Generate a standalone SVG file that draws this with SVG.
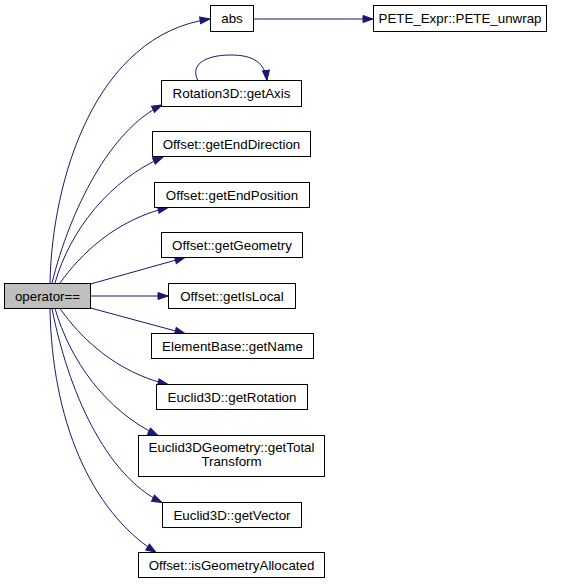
<svg xmlns="http://www.w3.org/2000/svg" width="561" height="584" viewBox="0 0 561 584">
<defs>
<marker id="arr" markerWidth="11" markerHeight="8" refX="10" refY="3.5" orient="auto" markerUnits="userSpaceOnUse" overflow="visible">
<path d="M0,0 L10,3.5 L0,7 z" fill="#191970" stroke="#191970" stroke-width="1"/>
</marker>
<style>
.node rect{fill:#ffffff;stroke:#000000;stroke-width:1}
.node.cur rect{fill:#bfbfbf}
.node text{font-family:"Liberation Sans",Arial,Helvetica,sans-serif;font-size:13.33px;fill:#000000;text-anchor:middle}
.edges path{fill:none;stroke:#191970;stroke-width:1;marker-end:url(#arr)}
</style>
</defs>
<rect x="0" y="0" width="561" height="584" fill="#ffffff"/>
<g class="edges">
<path d="M253.5,19 L373,19"/>
<path d="M198,80.5 C190,66 203,55 231,55 C252,55 265,62 267,80.5"/>
<path d="M50,283 C52,180 95,35 210,19"/>
<path d="M52,283 C70,210 110,130 162,105"/>
<path d="M55,283 C70,230 110,180 163,157"/>
<path d="M60,283 C80,255 115,220 168,207.5"/>
<path d="M90.5,284 L185,257.5"/>
<path d="M90.5,296 L168,296"/>
<path d="M90.5,308 L185,333.5"/>
<path d="M60,308.5 C80,337 115,372 168,384.5"/>
<path d="M55,308.5 C70,360 105,410 158,435.5"/>
<path d="M52,308.5 C68,390 105,475 162,502.5"/>
<path d="M50,308.5 C52,420 90,510 156,552.5"/>
</g>
<g id="node-operator" class="node cur"><rect x="4.5" y="283.5" width="86" height="25"/><text x="47.5" y="300.7">operator==</text></g>
<g id="node-abs" class="node"><rect x="210.5" y="5.5" width="43" height="26"/><text x="232" y="23.2">abs</text></g>
<g id="node-unwrap" class="node"><rect x="373.5" y="5.5" width="173" height="26"/><text x="460" y="23.2">PETE_Expr::PETE_unwrap</text></g>
<g id="node-getAxis" class="node"><rect x="161.5" y="80.5" width="140" height="26"/><text x="231.5" y="98.2">Rotation3D::getAxis</text></g>
<g id="node-getEndDirection" class="node"><rect x="152.5" y="131.5" width="158" height="25"/><text x="231.5" y="148.7">Offset::getEndDirection</text></g>
<g id="node-getEndPosition" class="node"><rect x="154.5" y="182.5" width="155" height="25"/><text x="232" y="199.7">Offset::getEndPosition</text></g>
<g id="node-getGeometry" class="node"><rect x="161.5" y="232.5" width="141" height="25"/><text x="232" y="249.7">Offset::getGeometry</text></g>
<g id="node-getIsLocal" class="node"><rect x="168.5" y="283.5" width="127" height="25"/><text x="232" y="300.7">Offset::getIsLocal</text></g>
<g id="node-getName" class="node"><rect x="151.5" y="333.5" width="162" height="25"/><text x="232.5" y="350.7">ElementBase::getName</text></g>
<g id="node-getRotation" class="node"><rect x="156.5" y="384.5" width="151" height="25"/><text x="232" y="401.7">Euclid3D::getRotation</text></g>
<g id="node-getTotalTransform" class="node"><rect x="138.5" y="435.5" width="186" height="41"/><text x="231.5" y="451.6">Euclid3DGeometry::getTotal</text><text x="231.5" y="466.2">Transform</text></g>
<g id="node-getVector" class="node"><rect x="162.5" y="502.5" width="139" height="25"/><text x="232" y="519.7">Euclid3D::getVector</text></g>
<g id="node-isGeometryAllocated" class="node"><rect x="138.5" y="552.5" width="186" height="25"/><text x="231.5" y="569.7">Offset::isGeometryAllocated</text></g>
</svg>
